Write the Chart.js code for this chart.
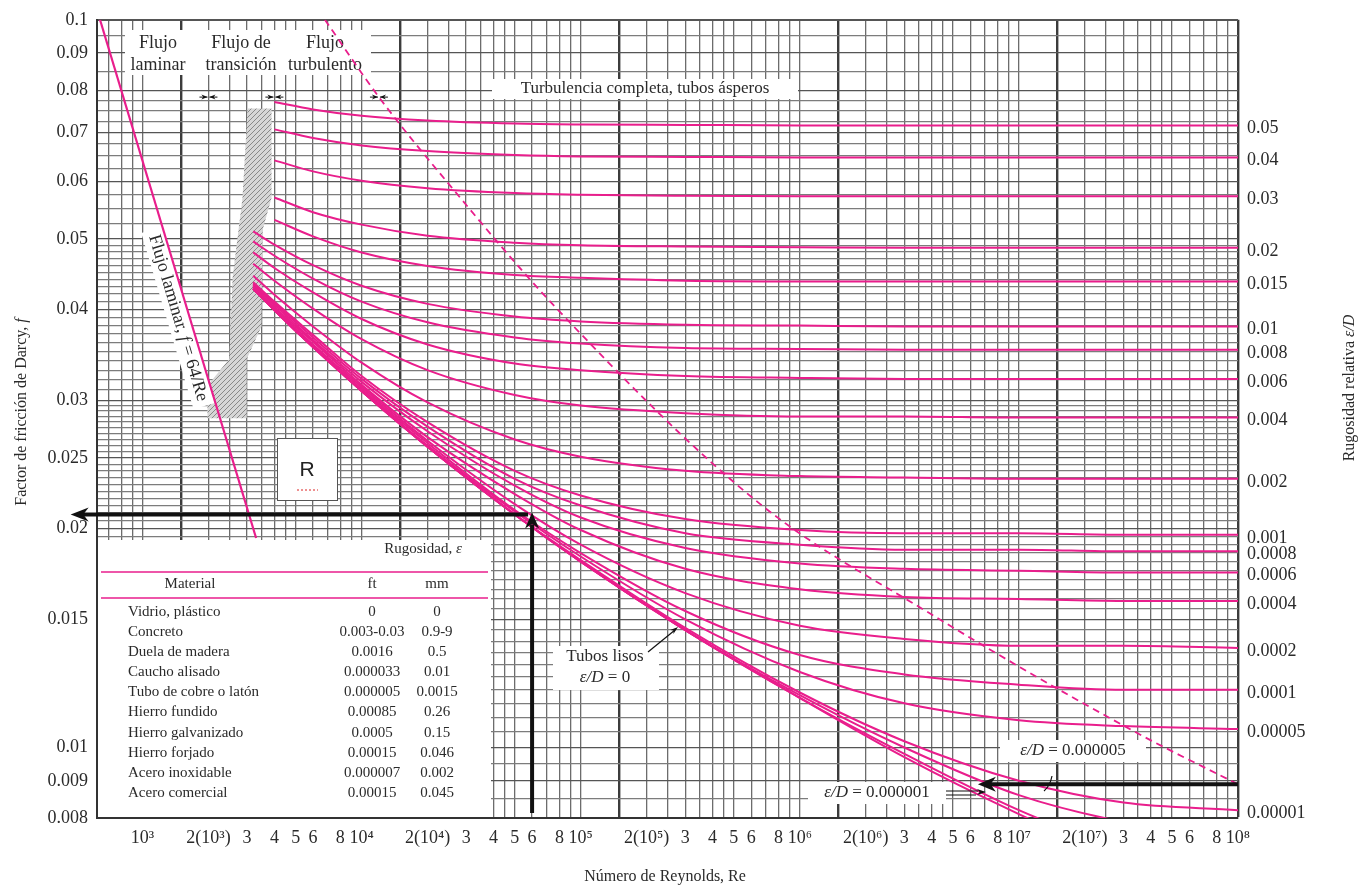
<!DOCTYPE html>
<html>
<head>
<meta charset="utf-8">
<script src="https://cdn.jsdelivr.net/npm/chart.js@4.4.1/dist/chart.umd.min.js"></script>
<style>
  html, body { margin: 0; padding: 0; background: #fff; }
  #wrap { width: 1370px; height: 886px; }
</style>
</head>
<body>
<div id="wrap"><canvas id="moody" width="1370" height="886"></canvas></div>
<script>
/* Moody diagram. */

// Reynolds numbers at which every curve was read
const reynolds = [3200, 4000, 6000, 1e4, 2e4, 5e4, 1e5, 3e5, 1e6, 3e6, 1e7, 3e7, 1e8];

// Darcy friction factor per relative roughness (null = curve not drawn there)
const rough_05 = [null, 0.0771, 0.0753, 0.0738, 0.0727, 0.0720, 0.0718, 0.0717, 0.0716, 0.0716, 0.0716, 0.0716, 0.0716];
const rough_04 = [null, 0.0707, 0.0688, 0.0672, 0.0660, 0.0652, 0.0649, 0.0648, 0.0647, 0.0647, 0.0647, 0.0647, 0.0647];
const rough_03 = [null, 0.0641, 0.0619, 0.0601, 0.0587, 0.0578, 0.0575, 0.0573, 0.0572, 0.0572, 0.0572, 0.0572, 0.0572];
const rough_02 = [null, 0.0570, 0.0544, 0.0523, 0.0505, 0.0494, 0.0490, 0.0488, 0.0487, 0.0486, 0.0486, 0.0486, 0.0486];
const rough_015 = [null, 0.0531, 0.0504, 0.0479, 0.0459, 0.0446, 0.0442, 0.0438, 0.0437, 0.0437, 0.0437, 0.0437, 0.0437];
const rough_01 = [0.0512, 0.0491, 0.0460, 0.0431, 0.0407, 0.0391, 0.0385, 0.0381, 0.0380, 0.0379, 0.0379, 0.0379, 0.0379];
const rough_008 = [0.0496, 0.0474, 0.0441, 0.0410, 0.0384, 0.0366, 0.0359, 0.0354, 0.0353, 0.0352, 0.0352, 0.0352, 0.0352];
const rough_006 = [0.0479, 0.0456, 0.0422, 0.0388, 0.0358, 0.0337, 0.0330, 0.0324, 0.0322, 0.0321, 0.0321, 0.0321, 0.0321];
const rough_004 = [0.0462, 0.0438, 0.0401, 0.0364, 0.0330, 0.0305, 0.0295, 0.0288, 0.0285, 0.0285, 0.0284, 0.0284, 0.0284];
const rough_002 = [0.0445, 0.0419, 0.0379, 0.0338, 0.0298, 0.0265, 0.0251, 0.0240, 0.0236, 0.0235, 0.0234, 0.0234, 0.0234];
const rough_001 = [0.0436, 0.0410, 0.0369, 0.0324, 0.0280, 0.0240, 0.0222, 0.0206, 0.0199, 0.0197, 0.0197, 0.0196, 0.0196];
const rough_0008 = [0.0434, 0.0408, 0.0366, 0.0321, 0.0276, 0.0234, 0.0215, 0.0197, 0.0190, 0.0187, 0.0187, 0.0186, 0.0186];
const rough_0006 = [0.0432, 0.0406, 0.0363, 0.0318, 0.0272, 0.0229, 0.0207, 0.0188, 0.0179, 0.0176, 0.0175, 0.0174, 0.0174];
const rough_0004 = [0.0431, 0.0403, 0.0361, 0.0315, 0.0267, 0.0223, 0.0199, 0.0176, 0.0165, 0.0161, 0.0160, 0.0159, 0.0159];
const rough_0002 = [0.0429, 0.0401, 0.0358, 0.0313, 0.0264, 0.0216, 0.0190, 0.0163, 0.0147, 0.0141, 0.0138, 0.0138, 0.0137];
const rough_0001 = [0.0428, 0.0400, 0.0356, 0.0311, 0.0262, 0.0212, 0.0185, 0.0154, 0.0134, 0.0126, 0.0122, 0.0120, 0.0120];
const rough_00005 = [0.0427, 0.0400, 0.0356, 0.0310, 0.0260, 0.0211, 0.0183, 0.0150, 0.0127, 0.0115, 0.0109, 0.0107, 0.0106];
const rough_00001 = [0.0427, 0.0399, 0.0355, 0.0309, 0.0259, 0.0209, 0.0181, 0.0146, 0.0119, 0.0102, 0.0090, 0.0084, 0.0082];
const rough_000005 = [0.0427, 0.0399, 0.0355, 0.0309, 0.0259, 0.0209, 0.0180, 0.0145, 0.0118, 0.0100, 0.0086, 0.0079, 0.0075];
const rough_000001 = [0.0427, 0.0399, 0.0355, 0.0309, 0.0259, 0.0209, 0.0180, 0.0145, 0.0117, 0.0098, 0.0082, 0.0072, null];
const smooth = [0.0427, 0.0399, 0.0355, 0.0309, 0.0259, 0.0209, 0.0180, 0.0145, 0.0117, 0.0097, 0.0081, 0.0070, null];

const roughnessNames = ['0.05', '0.04', '0.03', '0.02', '0.015', '0.01', '0.008', '0.006', '0.004', '0.002',
  '0.001', '0.0008', '0.0006', '0.0004', '0.0002', '0.0001', '0.00005', '0.00001', '0.000005', '0.000001', '0'];
const roughnessCurves = [rough_05, rough_04, rough_03, rough_02, rough_015, rough_01, rough_008, rough_006, rough_004, rough_002,
  rough_001, rough_0008, rough_0006, rough_0004, rough_0002, rough_0001, rough_00005, rough_00001, rough_000005, rough_000001, smooth];
// curves that carry a label on the right edge
const rightLabels = ['0.05', '0.04', '0.03', '0.02', '0.015', '0.01', '0.008', '0.006', '0.004', '0.002',
  '0.001', '0.0008', '0.0006', '0.0004', '0.0002', '0.0001', '0.00005', '0.00001'];

// laminar line f = 64/Re, end points
const laminarRe = [640, 3300];
const laminarF = [0.1, 0.0194];

// dashed limit of complete turbulence
const roughLimitRe = [6800, 12000, 24400, 76000, 660000, 3.9e6, 3.4e7, 1e8];
const roughLimitF = [0.1, 0.0783, 0.060, 0.0404, 0.0216, 0.0153, 0.0105, 0.0089];

// hatched transition zone outline
const transitionRe = [3020, 3880, 3880, 3530, 3490, 2990, 2990, 1980, 1980, 2490, 2580, 2860];
const transitionF = [0.0755, 0.0755, 0.0569, 0.0514, 0.0379, 0.0342, 0.02835, 0.02835, 0.0314, 0.0342, 0.0443, 0.0569];

// reading arrows drawn on the chart
const readRe = 6e4;
const readF = 0.0209;
const readLeftRe = 470;
const lowArrowF = 0.0089;
const lowArrowTipRe = 6.5e6;

// little flow-regime markers
const regimeMarkRe = [2000, 4000, 12000];
const regimeMarkF = 0.0783;

// axis ticks
const xMin = 620, xMax = 1e8, yMin = 0.008, yMax = 0.1;
const xLabelValues = [1e3, 2e3, 3e3, 4e3, 5e3, 6e3, 8e3, 1e4, 2e4, 3e4, 4e4, 5e4, 6e4, 8e4, 1e5, 2e5, 3e5, 4e5, 5e5, 6e5, 8e5,
  1e6, 2e6, 3e6, 4e6, 5e6, 6e6, 8e6, 1e7, 2e7, 3e7, 4e7, 5e7, 6e7, 8e7, 1e8];
const xLabelTexts = ['10³', '2(10³)', '3', '4', '5', '6', '8', '10⁴', '2(10⁴)', '3', '4', '5', '6', '8', '10⁵', '2(10⁵)', '3', '4', '5', '6', '8',
  '10⁶', '2(10⁶)', '3', '4', '5', '6', '8', '10⁷', '2(10⁷)', '3', '4', '5', '6', '8', '10⁸'];
const yLabelValues = [0.1, 0.09, 0.08, 0.07, 0.06, 0.05, 0.04, 0.03, 0.025, 0.02, 0.015, 0.01, 0.009, 0.008];
const gridMultipliers = [1, 1.5, 2, 2.5, 3, 3.5, 4, 4.5, 5, 6, 7, 8, 9];

// roughness table
const materials = ['Vidrio, plástico', 'Concreto', 'Duela de madera', 'Caucho alisado', 'Tubo de cobre o latón',
  'Hierro fundido', 'Hierro galvanizado', 'Hierro forjado', 'Acero inoxidable', 'Acero comercial'];
const roughFt = ['0', '0.003-0.03', '0.0016', '0.000033', '0.000005', '0.00085', '0.0005', '0.00015', '0.000007', '0.00015'];
const roughMm = ['0', '0.9-9', '0.5', '0.01', '0.0015', '0.26', '0.15', '0.046', '0.002', '0.045'];

const PINK = '#e91e8c';
const INK = '#2a2a2a';
const SERIF = '"Liberation Serif", "DejaVu Serif", serif';

// grid positions
const xGrid = [];
for (let p = 2; p <= 7; p++) {
  gridMultipliers.forEach(m => {
    const v = Math.round(m * Math.pow(10, p));
    if (v >= xMin && v <= xMax) xGrid.push(v);
  });
}
xGrid.push(1e8);

function steps(a, b, s) {
  const out = [];
  for (let v = a; v < b - 1e-9; v += s) out.push(+v.toFixed(5));
  return out;
}
const yGrid = [].concat(steps(0.008, 0.03, 0.0005), steps(0.03, 0.05, 0.001),
  steps(0.05, 0.08, 0.0025), steps(0.08, 0.1, 0.005), [0.1]);

const near = (a, b) => Math.abs(a - b) / b < 1e-6;
const isHalfDecade = v => near(v / Math.pow(10, Math.floor(Math.log10(v) + 1e-9)), 1.5);

function toPoints(xs, ys) {
  const pts = [];
  xs.forEach((x, i) => { if (ys[i] !== null) pts.push({ x: x, y: ys[i] }); });
  return pts;
}

const datasets = roughnessCurves.map((curve, i) => ({
  label: roughnessNames[i],
  data: toPoints(reynolds, curve),
  borderColor: PINK,
  borderWidth: 2,
  pointRadius: 0,
  cubicInterpolationMode: 'monotone',
  fill: false
}));
datasets.push({
  label: 'laminar',
  data: toPoints(laminarRe, laminarF),
  borderColor: PINK, borderWidth: 2.2, pointRadius: 0, tension: 0
});
datasets.push({
  label: 'turbulencia completa',
  data: toPoints(roughLimitRe, roughLimitF),
  borderColor: PINK, borderWidth: 1.8, borderDash: [7, 5], pointRadius: 0,
  cubicInterpolationMode: 'monotone'
});

function font(size, italic) {
  return (italic ? 'italic ' : '') + size + 'px ' + SERIF;
}

// draws mixed roman / italic text, parts = [[text, italic], ...]
function rich(ctx, parts, x, y, align, size) {
  let w = 0;
  parts.forEach(p => { ctx.font = font(size, p[1]); w += ctx.measureText(p[0]).width; });
  let cx = align === 'center' ? x - w / 2 : (align === 'right' ? x - w : x);
  ctx.textAlign = 'left';
  parts.forEach(p => {
    ctx.font = font(size, p[1]);
    ctx.fillText(p[0], cx, y);
    cx += ctx.measureText(p[0]).width;
  });
}

function arrowHead(ctx, x, y, angle, len, w) {
  ctx.save();
  ctx.translate(x, y);
  ctx.rotate(angle);
  ctx.beginPath();
  ctx.moveTo(0, 0);
  ctx.lineTo(-len, -w / 2);
  ctx.lineTo(-len * 0.7, 0);
  ctx.lineTo(-len, w / 2);
  ctx.closePath();
  ctx.fill();
  ctx.restore();
}

function whiteBox(ctx, x, y, w, h) {
  ctx.fillStyle = '#fff';
  ctx.fillRect(x, y, w, h);
}

const decorations = {
  id: 'decorations',
  beforeDatasetsDraw(chart) {
    const ctx = chart.ctx;
    const xs = chart.scales.x, ys = chart.scales.y;
    const area = chart.chartArea;
    ctx.save();

    // hatched transition zone
    const tile = document.createElement('canvas');
    tile.width = 5; tile.height = 5;
    const g = tile.getContext('2d');
    g.fillStyle = '#d6d6d6'; g.fillRect(0, 0, 5, 5);
    g.strokeStyle = '#888'; g.lineWidth = 1;
    g.beginPath(); g.moveTo(0, 5); g.lineTo(5, 0); g.stroke();
    ctx.fillStyle = ctx.createPattern(tile, 'repeat');
    ctx.beginPath();
    transitionRe.forEach((re, i) => {
      const px = xs.getPixelForValue(re), py = ys.getPixelForValue(transitionF[i]);
      if (i === 0) ctx.moveTo(px, py); else ctx.lineTo(px, py);
    });
    ctx.closePath();
    ctx.fill();

    // header boxes
    whiteBox(ctx, 125, 30, 246, 45);
    ctx.fillStyle = INK;
    ctx.textBaseline = 'middle';
    ctx.font = font(18);
    ctx.textAlign = 'center';
    ctx.fillText('Flujo', 158, 43); ctx.fillText('laminar', 158, 65);
    ctx.fillText('Flujo de', 241, 43); ctx.fillText('transición', 241, 65);
    ctx.fillText('Flujo', 325, 43); ctx.fillText('turbulento', 325, 65);

    whiteBox(ctx, 492, 79, 306, 20);
    ctx.fillStyle = INK;
    ctx.font = font(17);
    ctx.fillText('Turbulencia completa, tubos ásperos', 645, 89);

    // laminar label along the line
    ctx.save();
    ctx.translate(178, 318);
    ctx.rotate(73.5 * Math.PI / 180);
    whiteBox(ctx, -92, -11, 184, 22);
    ctx.fillStyle = INK;
    rich(ctx, [['Flujo laminar, ', false], ['f', true], [' = 64/Re', false]], 0, 0, 'center', 18);
    ctx.restore();

    // Tubos lisos note
    whiteBox(ctx, 553, 646, 106, 44);
    ctx.fillStyle = INK;
    ctx.font = font(17); ctx.textAlign = 'center';
    ctx.fillText('Tubos lisos', 605, 657);
    rich(ctx, [['ε/D', true], [' = 0', false]], 605, 678, 'center', 17);

    // small roughness notes
    whiteBox(ctx, 1000, 740, 146, 22);
    ctx.fillStyle = INK;
    rich(ctx, [['ε/D', true], [' = 0.000005', false]], 1073, 751, 'center', 17);
    whiteBox(ctx, 808, 782, 138, 22);
    ctx.fillStyle = INK;
    rich(ctx, [['ε/D', true], [' = 0.000001', false]], 877, 793, 'center', 17);

    // roughness table
    whiteBox(ctx, area.left + 1, 540, 393, area.bottom - 541);
    ctx.fillStyle = INK;
    rich(ctx, [['Rugosidad, ', false], ['ε', true]], 423, 549, 'center', 15);
    ctx.strokeStyle = PINK; ctx.lineWidth = 1.5;
    ctx.beginPath(); ctx.moveTo(101, 572); ctx.lineTo(488, 572); ctx.stroke();
    ctx.beginPath(); ctx.moveTo(101, 598); ctx.lineTo(488, 598); ctx.stroke();
    ctx.font = font(15); ctx.textAlign = 'center';
    ctx.fillText('Material', 190, 584);
    ctx.fillText('ft', 372, 584);
    ctx.fillText('mm', 437, 584);
    materials.forEach((m, i) => {
      const y = 612 + i * 20.1;
      ctx.textAlign = 'left';
      ctx.fillText(m, 128, y);
      ctx.textAlign = 'center';
      ctx.fillText(roughFt[i], 372, y);
      ctx.fillText(roughMm[i], 437, y);
    });
    ctx.restore();
  },
  afterDatasetsDraw(chart) {
    const ctx = chart.ctx;
    const xs = chart.scales.x, ys = chart.scales.y;
    const area = chart.chartArea;
    ctx.save();

    // regime markers
    ctx.fillStyle = '#111'; ctx.strokeStyle = '#111'; ctx.lineWidth = 1;
    const my = ys.getPixelForValue(regimeMarkF);
    regimeMarkRe.forEach(re => {
      const mx = xs.getPixelForValue(re);
      ctx.beginPath(); ctx.moveTo(mx - 9, my); ctx.lineTo(mx - 1, my); ctx.stroke();
      ctx.beginPath(); ctx.moveTo(mx + 1, my); ctx.lineTo(mx + 9, my); ctx.stroke();
      arrowHead(ctx, mx - 1, my, 0, 6, 5);
      arrowHead(ctx, mx + 1, my, Math.PI, 6, 5);
    });

    // thin pointer arrows
    ctx.lineWidth = 1.2;
    ctx.beginPath(); ctx.moveTo(648, 652); ctx.lineTo(675, 630); ctx.stroke();
    arrowHead(ctx, 678, 627, Math.atan2(-22, 27), 8, 5);
    ctx.beginPath(); ctx.moveTo(946, 791); ctx.lineTo(978, 791); ctx.moveTo(946, 795); ctx.lineTo(976, 795); ctx.stroke();
    arrowHead(ctx, 986, 792, 0, 9, 6);
    ctx.beginPath(); ctx.moveTo(1052, 776); ctx.quadraticCurveTo(1050, 786, 1044, 791); ctx.stroke();

    // reading arrows
    ctx.lineWidth = 4;
    const rx = xs.getPixelForValue(readRe), ry = ys.getPixelForValue(readF);
    const lx = xs.getPixelForValue(readLeftRe);
    ctx.beginPath(); ctx.moveTo(rx, area.bottom - 5); ctx.lineTo(rx, ry + 10); ctx.stroke();
    arrowHead(ctx, rx, ry - 2, -Math.PI / 2, 16, 14);
    ctx.beginPath(); ctx.moveTo(rx - 4, ry); ctx.lineTo(lx + 12, ry); ctx.stroke();
    arrowHead(ctx, lx, ry, Math.PI, 18, 14);
    const ly = ys.getPixelForValue(lowArrowF);
    const tx = xs.getPixelForValue(lowArrowTipRe);
    ctx.beginPath(); ctx.moveTo(area.right, ly); ctx.lineTo(tx + 12, ly); ctx.stroke();
    arrowHead(ctx, tx, ly, Math.PI, 18, 15);

    // R box
    ctx.fillStyle = '#fff';
    ctx.fillRect(277, 438, 60, 62);
    ctx.strokeStyle = '#555'; ctx.lineWidth = 1;
    ctx.strokeRect(277.5, 438.5, 60, 62);
    ctx.fillStyle = '#222';
    ctx.font = '21px "Liberation Sans", Arial, sans-serif';
    ctx.textAlign = 'center'; ctx.textBaseline = 'middle';
    ctx.fillText('R', 307, 470);
    ctx.strokeStyle = '#d22'; ctx.setLineDash([2, 2]);
    ctx.beginPath(); ctx.moveTo(297, 490); ctx.lineTo(318, 490); ctx.stroke();
    ctx.setLineDash([]);

    // relative roughness labels on the right
    ctx.fillStyle = INK; ctx.font = font(18); ctx.textAlign = 'left';
    roughnessNames.forEach((name, i) => {
      if (!rightLabels.includes(name)) return;
      const curve = roughnessCurves[i];
      const y = ys.getPixelForValue(curve[curve.length - 1]);
      ctx.fillText(name, area.right + 9, y + 3);
    });

    // axis titles
    ctx.save();
    ctx.translate(22, 412); ctx.rotate(-Math.PI / 2);
    rich(ctx, [['Factor de fricción de Darcy, ', false], ['f', true]], 0, 0, 'center', 16);
    ctx.restore();
    ctx.save();
    ctx.translate(1350, 388); ctx.rotate(-Math.PI / 2);
    rich(ctx, [['Rugosidad relativa ', false], ['ε/D', true]], 0, 0, 'center', 16);
    ctx.restore();
    rich(ctx, [['Número de Reynolds, Re', false]], 665, 877, 'center', 16);
    ctx.restore();
  }
};

new Chart(document.getElementById('moody'), {
  type: 'line',
  data: { datasets: datasets },
  options: {
    responsive: false,
    devicePixelRatio: 1,
    animation: false,
    events: [],
    layout: { padding: { left: 0, right: 132, top: 10, bottom: 0 } },
    plugins: { legend: { display: false }, tooltip: { enabled: false } },
    scales: {
      x: {
        type: 'logarithmic',
        min: xMin, max: xMax, bounds: 'data',
        afterBuildTicks: s => { s.ticks = xGrid.map(v => ({ value: v })); },
        afterFit: s => { s.height = 68; },
        ticks: {
          autoSkip: false, maxRotation: 0, padding: 9, color: INK,
          font: { family: SERIF, size: 18 },
          callback: v => {
            const i = xLabelValues.findIndex(l => near(v, l));
            return i >= 0 ? xLabelTexts[i] : '';
          }
        },
        grid: {
          drawTicks: false,
          color: c => (c.tick && (isHalfDecade(c.tick.value) || near(c.tick.value, 1e8))) ? '#3c3c3c' : '#6c6c6c',
          lineWidth: c => (c.tick && (isHalfDecade(c.tick.value) || near(c.tick.value, 1e8))) ? 2.4 : 1.3
        },
        border: { display: true, color: '#333', width: 2 }
      },
      y: {
        type: 'logarithmic',
        min: yMin, max: yMax, bounds: 'data',
        afterBuildTicks: s => { s.ticks = yGrid.map(v => ({ value: v })); },
        afterFit: s => { s.width = 97; },
        ticks: {
          autoSkip: false, padding: 9, color: INK,
          font: { family: SERIF, size: 18 },
          callback: v => (yLabelValues.some(l => near(v, l)) ? String(+v.toFixed(3)) : '')
        },
        grid: {
          drawTicks: false,
          color: c => (c.tick && yLabelValues.some(l => near(c.tick.value, l))) ? '#555' : '#7c7c7c',
          lineWidth: c => (c.tick && near(c.tick.value, 0.1)) ? 2 : 1.2
        },
        border: { display: true, color: '#333', width: 2 }
      }
    }
  },
  plugins: [decorations]
});
</script>
</body>
</html>
